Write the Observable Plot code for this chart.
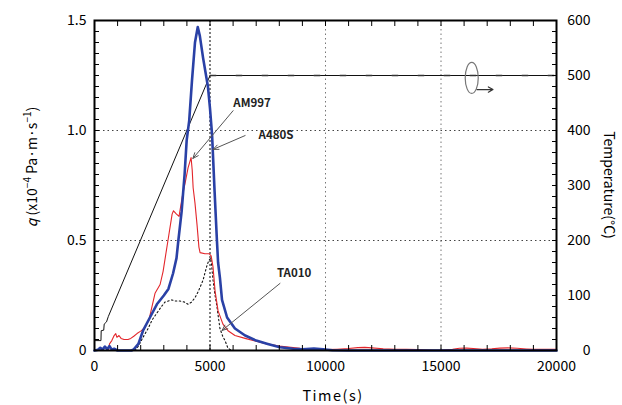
<!DOCTYPE html>
<html><head><meta charset="utf-8">
<script src="https://cdn.jsdelivr.net/npm/d3@7"></script>
<script src="https://cdn.jsdelivr.net/npm/@observablehq/plot@0.6"></script>
<style>body{margin:0;background:#fff}</style>
</head><body><div id="chart"></div>
<script>
// Temperature programme (right axis, °C)
const tempTime = [0, 280, 290, 400, 420, 520, 600, 5000, 20000];
const tempC    = [18, 18, 36, 37, 48, 52, 62, 500, 500];

// A480S (thick blue), q ×10^-4 Pa·m·s^-1
const a480sTime = [0,150,250,350,450,550,650,750,850,1000,1600,1700,1900,2100,2400,2700,3000,3200,3400,3550,3630,3770,3900,3990,4100,4220,4350,4470,4560,4700,4910,5000,5090,5200,5300,5350,5430,5520,5740,6080,6520,7000,7500,8030,8600,9000,9500,9900,10300,11000,20000];
const a480sQ    = [0,0.003,0.012,0.004,0.018,0.006,0.02,0.004,0.008,0,0,0.005,0.03,0.09,0.15,0.21,0.25,0.28,0.35,0.42,0.5,0.63,0.8,0.955,1.045,1.227,1.4,1.47,1.43,1.33,1.2,1.1,0.98,0.72,0.5,0.4,0.33,0.23,0.15,0.1,0.068,0.045,0.03,0.015,0.008,0.005,0.009,0.006,0.001,0,0];

// AM997 (thin red)
const am997Time = [0,600,650,750,850,920,970,1060,1150,1280,1450,1570,1700,1840,2000,2140,2360,2620,2840,2970,3180,3360,3420,3550,3660,3800,3920,4050,4180,4230,4270,4350,4440,4520,4570,4780,4960,5050,5130,5220,5350,5560,5780,6080,6520,7000,7460,8000,8900,9500,10000,10500,11000,11400,11700,12000,12500,13000,13500,14000,14700,15000,15500,15800,16100,16400,16800,17200,17550,17900,18300,18700,19000,19500,20000];
const am997Q    = [0,0,0.03,0.045,0.068,0.077,0.06,0.068,0.055,0.05,0.05,0.055,0.065,0.077,0.088,0.1,0.14,0.26,0.3,0.36,0.5,0.62,0.635,0.62,0.61,0.7,0.76,0.83,0.877,0.82,0.74,0.67,0.57,0.47,0.445,0.44,0.44,0.43,0.38,0.27,0.18,0.12,0.09,0.068,0.055,0.042,0.03,0.02,0.01,0.008,0.004,0.006,0.009,0.013,0.014,0.012,0.008,0.006,0.005,0.004,0.001,0.002,0.006,0.01,0.011,0.009,0.006,0.008,0.011,0.012,0.01,0.007,0.005,0.006,0.005];

// TA010 (black dotted)
const ta010Time = [1750,1900,2100,2320,2500,2700,2900,3050,3350,3500,3700,3900,4050,4200,4350,4500,4700,4850,4950,5040,5130,5220,5300,5430,5550,5650,5780,5900,6000,6400];
const ta010Q    = [0,0.02,0.06,0.1,0.14,0.17,0.2,0.22,0.23,0.225,0.225,0.22,0.21,0.22,0.24,0.27,0.32,0.38,0.41,0.42,0.32,0.25,0.2,0.1,0.065,0.045,0.01,0.003,0,0];

// Annotations (data coordinates)
const annLabels = ["AM997", "A480S", "TA010"];
const annTextT  = [6820, 7860, 8640];
const annTextQ  = [1.123, 0.977, 0.35];
const annFromT  = [6000, 6520, 8030];
const annFromQ  = [1.09, 0.977, 0.305];
const annToT    = [4260, 5130, 5520];
const annToQ    = [0.873, 0.914, 0.091];

// Axis ticks
const xMajor = [0, 5000, 10000, 15000, 20000];
const xMinor = d3.range(0, 20001, 1000);
const yMajor = [0, 0.5, 1.0, 1.5];
const yMinor = d3.range(0, 31).map(i => i * 0.05);
const tMajor = [0, 100, 200, 300, 400, 500, 600];
const tScale = 400; // 600 °C ↔ 1.5

const temp = tempTime.map((t, i) => ({t, q: tempC[i] / tScale}));
const tempFlat = temp.filter(d => d.t >= 5000);
const a480s = a480sTime.map((t, i) => ({t, q: a480sQ[i]}));
const am997 = am997Time.map((t, i) => ({t, q: am997Q[i]}));
const ta010 = ta010Time.map((t, i) => ({t, q: ta010Q[i]}));
const ann = annLabels.map((s, i) => ({s, tx: annTextT[i], qx: annTextQ[i], t1: annFromT[i], q1: annFromQ[i], t2: annToT[i], q2: annToQ[i]}));

const legendLoop = [{t: 16330, q: 1.239}];
const legendArrow = [{t1: 16560, t2: 17250, q: 1.186}];

const ellipseSymbol = {
  draw(ctx, size) {
    const r = Math.sqrt(size / Math.PI), rx = 0.42 * r, ry = r, k = 0.5523;
    ctx.moveTo(0, -ry);
    ctx.bezierCurveTo(k * rx, -ry, rx, -k * ry, rx, 0);
    ctx.bezierCurveTo(rx, k * ry, k * rx, ry, 0, ry);
    ctx.bezierCurveTo(-k * rx, ry, -rx, k * ry, -rx, 0);
    ctx.bezierCurveTo(-rx, -k * ry, -k * rx, -ry, 0, -ry);
    ctx.closePath();
  }
};

const font = '"Noto Sans CJK JP", "Noto Sans", sans-serif';

const chart = Plot.plot({
  width: 622, height: 405,
  marginLeft: 94, marginRight: 66, marginTop: 20, marginBottom: 55,
  x: {domain: [0, 20000]},
  y: {domain: [0, 1.5]},
  style: {fontFamily: font, fontSize: "14px", background: "white", color: "black"},
  marks: [
    Plot.ruleY([0.5, 1.0], {stroke: "#444", strokeDasharray: "1.5,3"}),
    Plot.ruleX([5000], {stroke: "#000", strokeDasharray: "2,2"}),
    Plot.ruleX([10000, 15000], {stroke: "#777", strokeDasharray: "1.5,3"}),
    Plot.line(temp, {x: "t", y: "q", stroke: "#111", strokeWidth: 1}),
    Plot.line(tempFlat, {x: "t", y: "q", stroke: "#333", strokeWidth: 1.4, strokeDasharray: "6,20"}),
    Plot.line(ta010, {x: "t", y: "q", stroke: "#111", strokeWidth: 1.1, strokeDasharray: "1.5,2.5"}),
    Plot.line(am997, {x: "t", y: "q", stroke: "#e3262b", strokeWidth: 1.1}),
    Plot.line(a480s, {x: "t", y: "q", stroke: "#2a41a6", strokeWidth: 2.6}),
    Plot.arrow(ann, {x1: "t1", y1: "q1", x2: "t2", y2: "q2", stroke: "#555", strokeWidth: 1, headLength: 9, headAngle: 45}),
    Plot.text(ann, {x: "tx", y: "qx", text: "s", fontSize: 11.5, fontWeight: "bold", fill: "#222"}),
    Plot.dot(legendLoop, {x: "t", y: "q", r: 15.5, symbol: ellipseSymbol, stroke: "#777", strokeWidth: 1.2, fill: "none"}),
    Plot.arrow(legendArrow, {x1: "t1", x2: "t2", y1: "q", y2: "q", stroke: "#333", strokeWidth: 1.2, headLength: 7}),
    Plot.axisY(yMinor, {anchor: "left", tickSize: -5, tickFormat: () => "", label: null}),
    Plot.axisY(yMinor, {anchor: "right", tickSize: -5, tickFormat: () => "", label: null}),
    Plot.axisX(xMinor, {anchor: "bottom", tickSize: -5, tickFormat: () => "", label: null}),
    Plot.axisX(xMinor, {anchor: "top", tickSize: -5, tickFormat: () => "", label: null}),
    Plot.axisY(yMajor, {anchor: "left", tickSize: 0, tickPadding: 8, letterSpacing: 1, tickFormat: d => d === 0 ? "0" : d.toFixed(1), label: null}),
    Plot.axisY(tMajor.map(v => v / tScale), {anchor: "right", tickSize: 0, tickPadding: 34, textAnchor: "end", tickFormat: d => String(Math.round(d * tScale)), label: null}),
    Plot.axisX(xMajor, {anchor: "bottom", tickSize: 0, tickPadding: 11, letterSpacing: 1, tickFormat: d => String(d), label: null}),
    Plot.frame({stroke: "black", strokeWidth: 2})
  ]
});

const svg = d3.select(chart);
const yl = svg.append("text").attr("transform", "translate(37,167) rotate(-90)")
  .attr("text-anchor", "middle").attr("font-size", 14).attr("fill", "black");
yl.append("tspan").attr("font-style", "italic").text("q");
yl.append("tspan").text(" (x10");
yl.append("tspan").attr("font-size", 10).attr("dy", -6).text("−4");
yl.append("tspan").attr("dy", 6).text(" Pa·m·s");
yl.append("tspan").attr("font-size", 10).attr("dy", -6).text("−1");
yl.append("tspan").attr("dy", 6).text(")");

svg.append("text").attr("transform", "translate(604,185) rotate(90)")
  .attr("text-anchor", "middle").attr("font-size", 14).attr("fill", "black")
  .text("Temperature(°C)");

svg.append("text").attr("x", 333).attr("y", 401)
  .attr("text-anchor", "middle").attr("font-size", 14.5).attr("letter-spacing", 1.5).attr("fill", "black")
  .text("Time(s)");

document.getElementById("chart").appendChild(chart);
</script>
</body></html>
